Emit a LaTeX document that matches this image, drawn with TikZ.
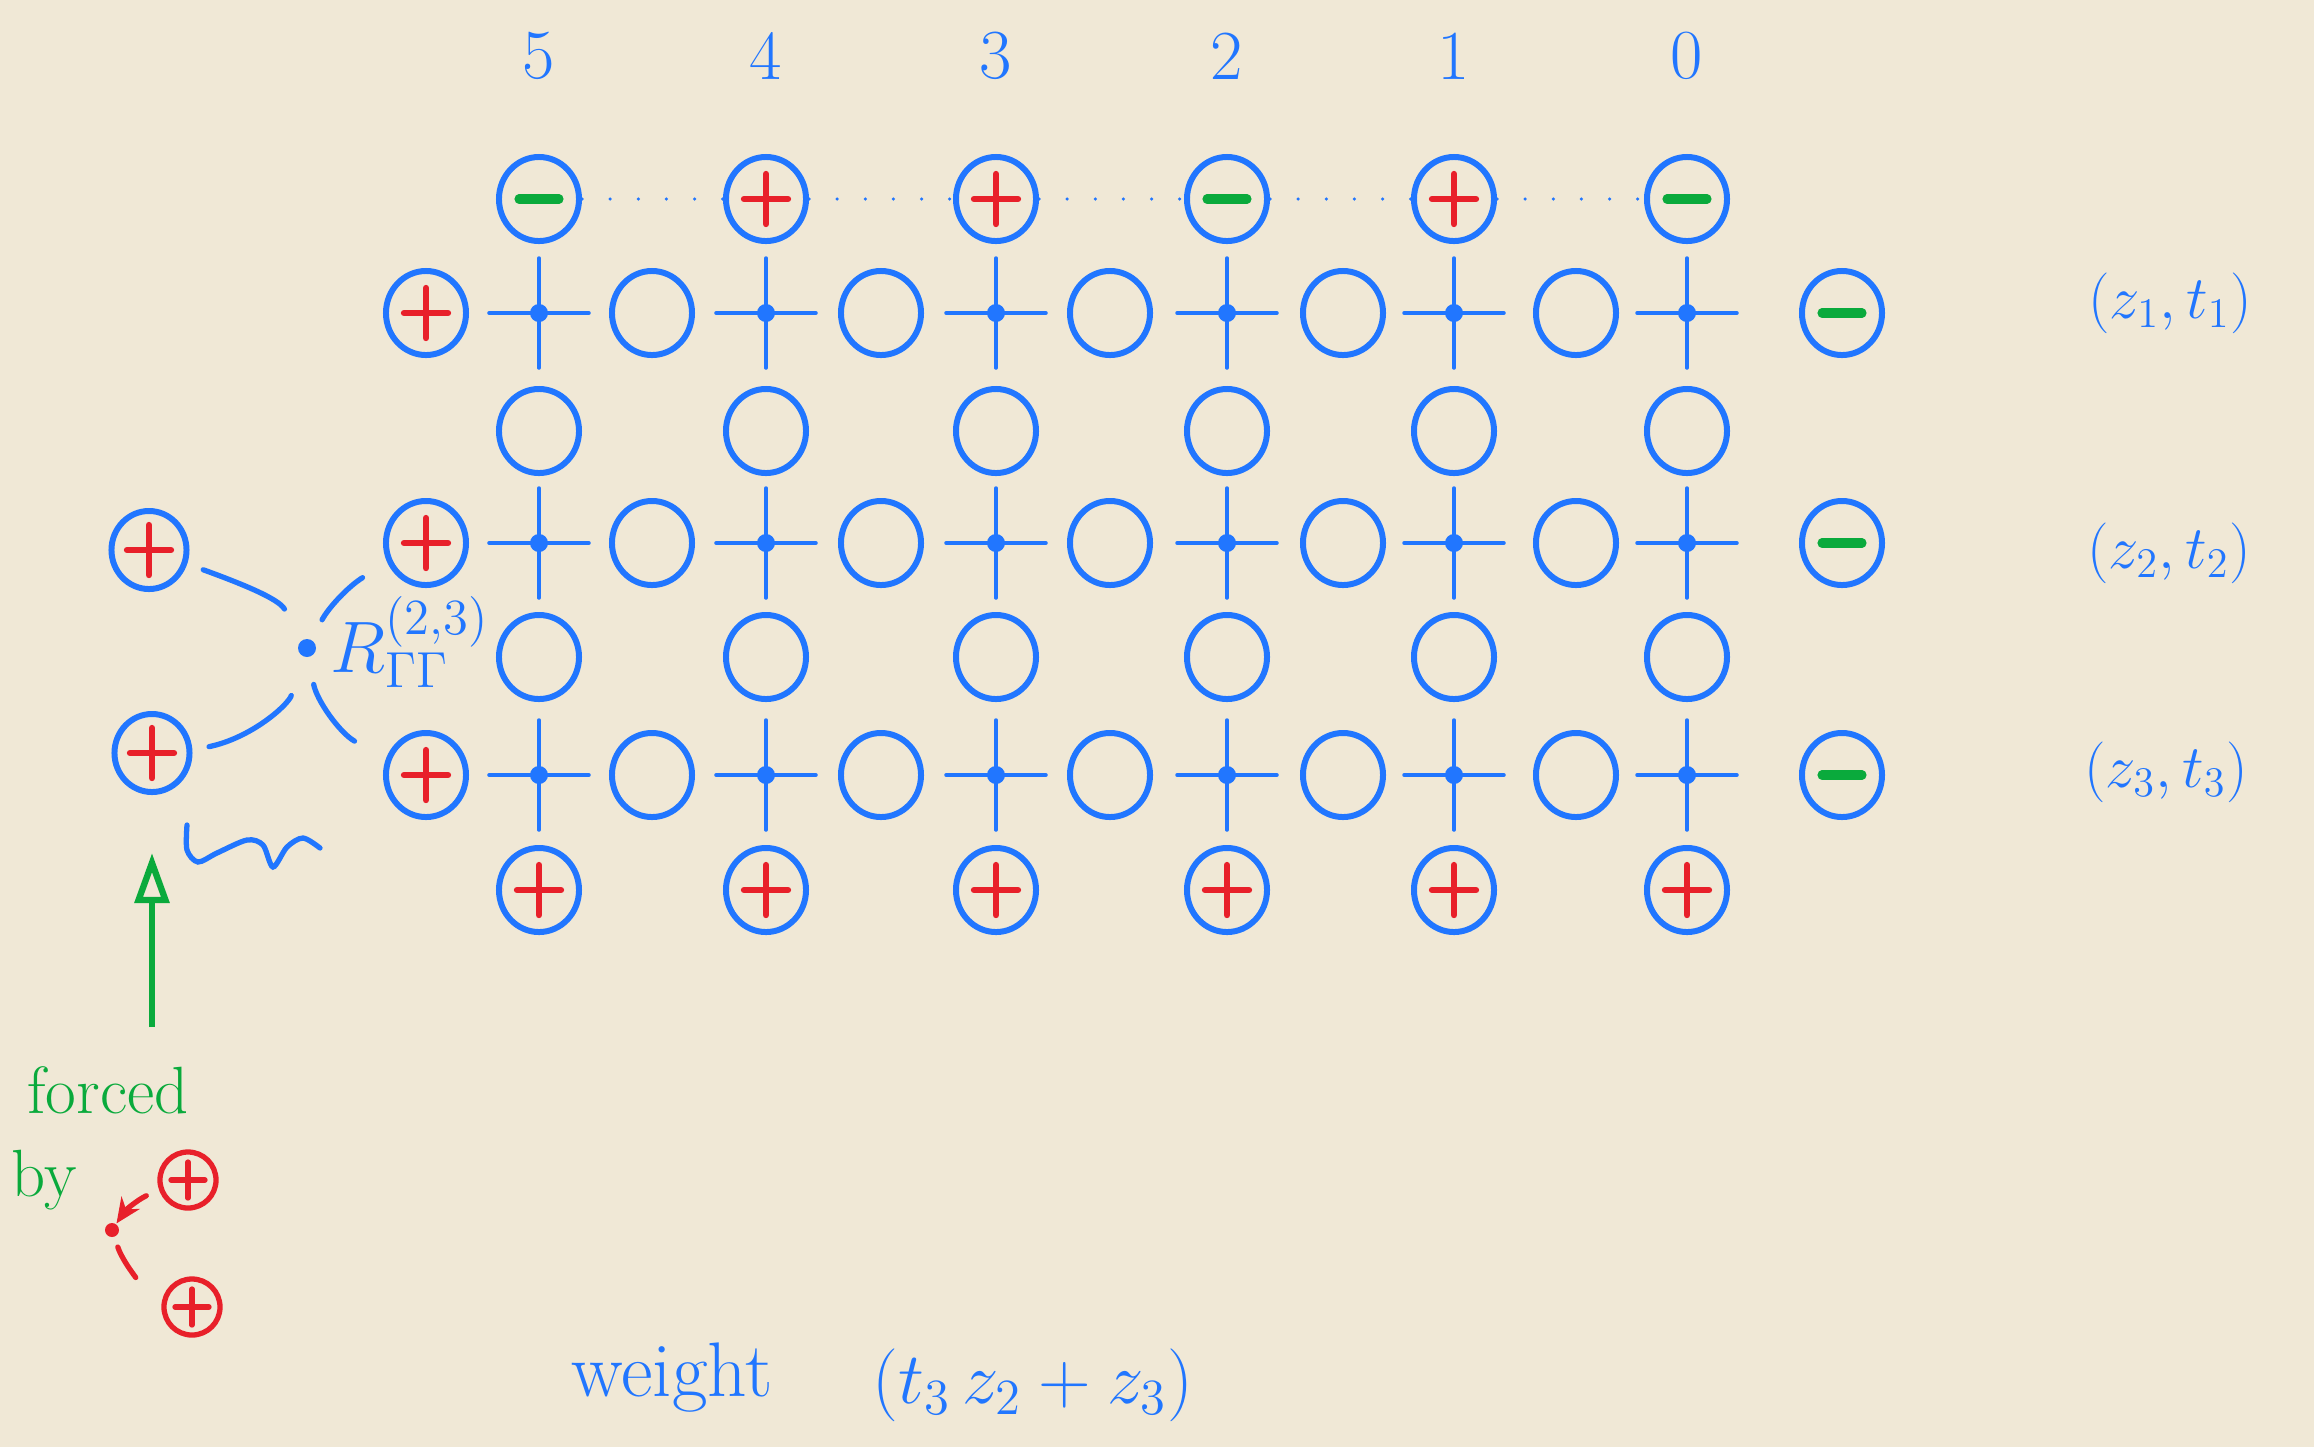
\documentclass[tikz,border=0pt]{standalone}
\usetikzlibrary{arrows.meta,calc,shapes.geometric}
\definecolor{InkBlue}{HTML}{2176FF}
\definecolor{InkRed}{HTML}{E8202A}
\definecolor{InkGreen}{HTML}{0AAA3C}
\definecolor{SheetPaper}{HTML}{F0E8D6}
\tikzset{
  every node/.style={text=InkBlue},
  site/.style={ellipse, draw=InkBlue, line width=1.7pt, minimum width=0.8cm, minimum height=0.84cm, inner sep=0pt},
  extrasite/.style={site, minimum width=0.75cm, minimum height=0.78cm},
  redsite/.style={circle, draw=InkRed, line width=1.5pt, minimum size=0.56cm, inner sep=0pt},
  plusink/.style={draw=InkRed, line width=1.8pt, line cap=round},
  minusink/.style={draw=InkGreen, line width=2.6pt, line cap=round},
  arm/.style={draw=InkBlue, line width=1pt, line cap=round},
  link/.style={draw=InkBlue, line width=1.5pt, line cap=round},
  dotrow/.style={draw=InkBlue, line width=1pt, line cap=round, dash pattern=on 0pt off 8pt},
  force/.style={-{Triangle[open, length=5mm, width=3.4mm]}, draw=InkGreen, line width=1.8pt},
  redlink/.style={draw=InkRed, line width=1.5pt, line cap=round},
  colnum/.style={font=\fontsize{20}{24}\selectfont},
  rowtag/.style={font=\fontsize{18}{22}\selectfont},
  handtext/.style={font=\fontsize{22}{26}\selectfont},
  sidetext/.style={font=\fontsize{19}{22}\selectfont, text=InkGreen},
}
\newcommand{\plusin}[1]{\draw[plusink] ($(#1)+(-22,0)$) -- ($(#1)+(22,0)$) ($(#1)+(0,-25)$) -- ($(#1)+(0,25)$);}
\newcommand{\minusin}[1]{\draw[minusink] ($(#1)+(-20,0)$) -- ($(#1)+(20,0)$);}
\newcommand{\smallplusin}[1]{\draw[redlink] ($(#1)+(-17,0)$) -- ($(#1)+(17,0)$) ($(#1)+(0,-18)$) -- ($(#1)+(0,18)$);}

\begin{document}
\begin{tikzpicture}[x=0.01cm, y=-0.01cm]
  \useasboundingbox (0,0) rectangle (2314,1447);
  \fill[SheetPaper] (0,0) rectangle (2314,1447);
  % Columns: labels, boundary sites, vertical sites and vertices
  \foreach \k/\x in {5/539,4/766,3/996,2/1227,1/1454,0/1687} {
    \node[colnum] (lab\k) at (\x,56) {\k};
    \node[site] (top\k) at (\x,199) {};
    \node[site] (mida\k) at (\x,431) {};
    \node[site] (midb\k) at (\x,657) {};
    \node[site] (bot\k) at (\x,890) {};
    \plusin{bot\k}
    \foreach \r/\y in {1/313,2/543,3/775} {
      \coordinate (v\k\r) at (\x,\y);
      \draw[arm] ($(v\k\r)+(-50,0)$) -- ($(v\k\r)+(50,0)$) ($(v\k\r)+(0,-55)$) -- ($(v\k\r)+(0,55)$);
      \fill[InkBlue] (v\k\r) circle [radius=9];
    }
  }
  \foreach \k in {4,3,1} {\plusin{top\k}}
  \foreach \k in {5,2,0} {\minusin{top\k}}
  \foreach \a/\b in {5/4,4/3,3/2,2/1,1/0} {
    \draw[dotrow] (top\a) -- (top\b);
  }
  % Rows: horizontal sites and boundary sites
  \foreach \r/\y in {1/313,2/543,3/775} {
    \foreach \i/\x in {1/652,2/881,3/1110,4/1343,5/1576} {
      \node[site] (h\i\r) at (\x,\y) {};
    }
    \node[site] (lft\r) at (426,\y) {};
    \plusin{lft\r}
    \node[site] (rgt\r) at (1842,\y) {};
    \minusin{rgt\r}
  }
  \node[rowtag] (tag1) at (2170,303) {$(z_1,t_1)$};
  \node[rowtag] (tag2) at (2169,553) {$(z_2,t_2)$};
  \node[rowtag] (tag3) at (2166,772) {$(z_3,t_3)$};
  % R-matrix on the left
  \node[extrasite] (ext1) at (149,550) {};
  \plusin{ext1}
  \node[extrasite] (ext2) at (152,753) {};
  \plusin{ext2}
  \coordinate (rdot) at (307,648);
  \fill[InkBlue] (rdot) circle [radius=9];
  \node[handtext, anchor=base west, inner sep=0pt] (rname) at (330,672) {$R_{\Gamma\Gamma}^{(2,3)}$};
  \draw[link, shorten <=0.17cm, shorten >=0.45cm] (ext1) to[out=-20, in=120] (rdot);
  \draw[link, shorten <=0.32cm, shorten >=0.29cm] (rdot) to[bend left=15] (lft2);
  \draw[link, shorten <=0.5cm, shorten >=0.17cm] (rdot) to[bend left=30] (ext2);
  \draw[link, shorten <=0.37cm, shorten >=0.36cm] (rdot) to[bend right=25] (lft3);
  \draw[link] plot[smooth] coordinates {(187,825) (187,850) (198,862) (217,853) (247,840) (263,845) (273,867) (287,847) (303,838) (320,848)};
  % Forced by
  \coordinate (fbase) at (152,1027);
  \draw[force, shorten >=0.58cm] (fbase) -- (ext2);
  \node[sidetext] (forced) at (108,1090) {forced};
  \node[sidetext] (forcedby) at (44,1180) {by};
  \node[redsite] (fa) at (188,1180) {};
  \smallplusin{fa}
  \node[redsite] (fb) at (192,1307) {};
  \smallplusin{fb}
  \coordinate (fdot) at (112,1230);
  \fill[InkRed] (fdot) circle [radius=7];
  \draw[redlink, -{Stealth[length=2.5mm, width=2.2mm]}, shorten <=0.14cm, shorten >=0.08cm] (fa) to[bend right=15] (fdot);
  \draw[redlink, shorten <=0.18cm, shorten >=0.33cm] (fdot) to[bend right=20] (fb);
  % Weight
  \node[handtext] (weightword) at (672,1378) {weight};
  \node[handtext, anchor=west] (weightterm) at (860,1385) {$\bigl(t_3\, z_2 + z_3\bigr)$};
\end{tikzpicture}
\end{document}
